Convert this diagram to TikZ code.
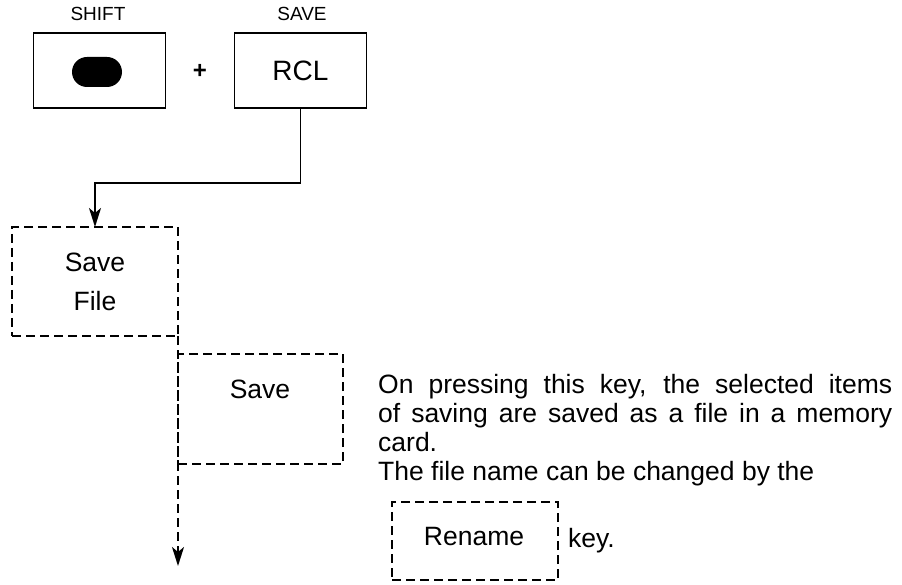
\documentclass[tikz,border=0pt]{standalone}
\usepackage{fontspec}
\setmainfont{Liberation Sans}
\usetikzlibrary{arrows.meta}
\begin{document}
\begin{tikzpicture}[x=1pt,y=-1pt,
  keybox/.style={draw, line width=1.9pt, minimum width=132pt, minimum height=75pt, inner sep=0pt, outer sep=0pt},
  dashbox/.style={draw, line width=1.9pt, dash pattern=on 9pt off 5pt, inner sep=0pt, outer sep=0pt},
  lbl/.style={font=\fontsize{19}{22}\selectfont, inner sep=0pt},
  txt/.style={font=\fontsize{26.5}{29}\selectfont, inner sep=0pt},
  arr/.style={line width=1.9pt, -{Stealth[length=19pt,width=12pt,inset=5pt]}},
]
\useasboundingbox (0,0) rectangle (902,585);
% keys
\node[lbl] (shiftlbl) at (98,14) {SHIFT};
\node[keybox] (shift) at (99.5,70.5) {};
\node[fill=black, rounded corners=15pt, minimum width=50pt, minimum height=30pt, inner sep=0pt] (oval) at (97,72) {};
\node[txt, font=\fontsize{24}{26}\bfseries] (plus) at (200,71) {+};
\node[lbl] (savelbl) at (302,14) {SAVE};
\node[keybox, font=\fontsize{28}{30}\selectfont] (rcl) at (300.5,70.5) {RCL};
% menu boxes
\node[dashbox, minimum width=166pt, minimum height=109pt] (savefile) at (95,281.5) {};
\node[txt] (savefiletxt) at (95,262) {Save};
\node[txt] (filetxt) at (95,301) {File};
\node[dashbox, minimum width=165pt, minimum height=110pt] (savebox) at (260.5,409) {};
\node[txt] (savetxt) at (260,389) {Save};
\coordinate (endpt) at (178,566);
% connectors
\draw[arr] (rcl.south) -- ++(0,75) -| (savefile.north);
\draw[arr, dash pattern=on 9pt off 5pt] (savefile.south east) -- (endpt);
% description
\node[txt, anchor=base west, text width=514pt, align=justify] (para) at (378,393)
  {\spaceskip=0.278em plus 2em minus 0.1em\tolerance=10000
   On pressing this key, the selected items\linebreak of saving are saved as a file in a memory\linebreak card.\\The file name can be changed by the};
\node[dashbox, minimum width=166pt, minimum height=78pt] (rename) at (475,541) {};
\node[txt] (renametxt) at (474,537) {Rename};
\node[txt, anchor=base west] (key) at (568,547) {key.};
\end{tikzpicture}
\end{document}
